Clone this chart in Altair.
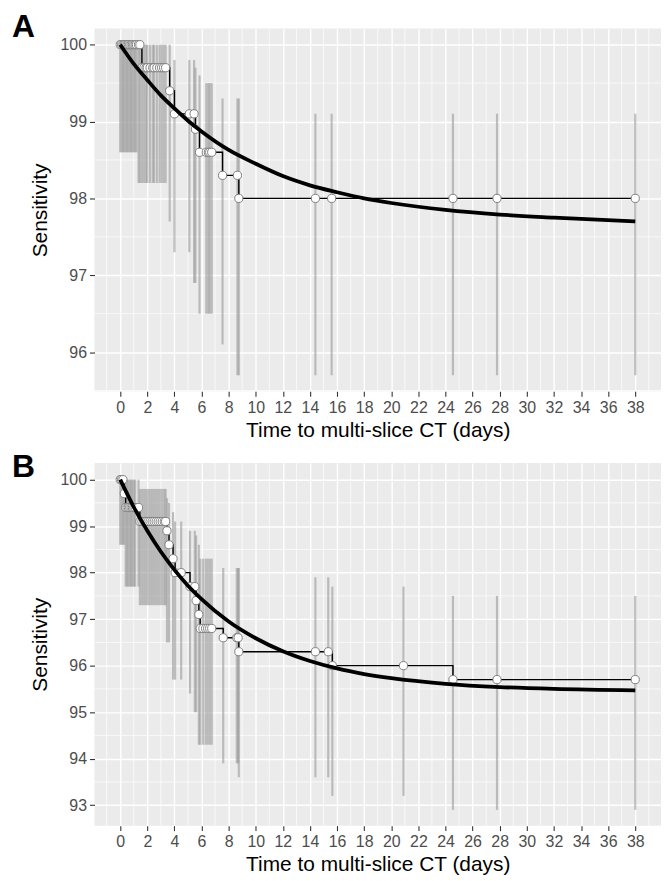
import altair as alt
import pandas as pd

FONT = "Liberation Sans"

# ---------------- axis tick values ----------------
X_MAJOR = [0, 2, 4, 6, 8, 10, 12, 14, 16, 18, 20, 22, 24, 26, 28, 30, 32, 34, 36, 38]
X_MINOR = [-1, 1, 3, 5, 7, 9, 11, 13, 15, 17, 19, 21, 23, 25, 27, 29, 31, 33, 35, 37, 39]
A_Y_MAJOR = [96, 97, 98, 99, 100]
A_Y_MINOR = [95.5, 96.5, 97.5, 98.5, 99.5]
B_Y_MAJOR = [93, 94, 95, 96, 97, 98, 99, 100]
B_Y_MINOR = [93.5, 94.5, 95.5, 96.5, 97.5, 98.5, 99.5]
X_DOMAIN = [-1.9, 39.9]
A_Y_DOMAIN = [95.49, 100.21]
B_Y_DOMAIN = [92.56, 100.36]

# ---------------- panel A data ----------------
A_time = [0.0, 0.1, 0.2, 0.3, 0.4, 0.5, 0.6, 0.7, 0.8, 0.9, 1.0, 1.1, 1.2, 1.35, 1.45,
          1.6, 1.75, 1.9, 2.0, 2.2, 2.4, 2.5, 2.7, 2.9, 3.05, 3.2, 3.35,
          3.65, 4.0, 5.1, 5.45, 5.55, 5.85, 6.35, 6.5, 6.6, 6.75,
          7.55, 8.65, 8.75, 14.4, 15.6, 24.55, 27.8, 38.0]
A_sens = [100, 100, 100, 100, 100, 100, 100, 100, 100, 100, 100, 100, 100, 100, 100,
          99.7, 99.7, 99.7, 99.7, 99.7, 99.7, 99.7, 99.7, 99.7, 99.7, 99.7, 99.7,
          99.4, 99.1, 99.1, 99.1, 98.9, 98.6, 98.6, 98.6, 98.6, 98.6,
          98.3, 98.3, 98.0, 98.0, 98.0, 98.0, 98.0, 98.0]
A_lo = [98.6, 98.6, 98.6, 98.6, 98.6, 98.6, 98.6, 98.6, 98.6, 98.6, 98.6, 98.6, 98.6, 98.2, 98.2,
        98.2, 98.2, 98.2, 98.2, 98.2, 98.2, 98.2, 98.2, 98.2, 98.2, 98.2, 98.2,
        97.7, 97.3, 97.3, 96.9, 96.9, 96.5, 96.5, 96.5, 96.5, 96.5,
        96.1, 95.7, 95.7, 95.7, 95.7, 95.7, 95.7, 95.7]
A_hi = [100, 100, 100, 100, 100, 100, 100, 100, 100, 100, 100, 100, 100, 100, 100,
        100, 100, 100, 100, 100, 100, 100, 100, 100, 100, 100, 100,
        100, 99.8, 99.8, 99.8, 99.7, 99.6, 99.5, 99.5, 99.5, 99.5,
        99.3, 99.3, 99.3, 99.1, 99.1, 99.1, 99.1, 99.1]
A_curve_x = [0, 1, 2, 3, 4, 5, 6, 8, 10, 12, 14, 16, 18, 20, 24, 28, 32, 38]
A_curve_y = [100, 99.75, 99.54, 99.34, 99.17, 99.01, 98.87, 98.63, 98.45, 98.29,
             98.17, 98.08, 98.00, 97.94, 97.85, 97.79, 97.75, 97.70]

# ---------------- panel B data ----------------
B_time = [0.0, 0.1, 0.2, 0.3,
          0.4, 0.5, 0.6, 0.7, 0.8, 0.9, 1.0, 1.1, 1.35,
          1.45, 1.6, 1.75, 1.9, 2.05, 2.2, 2.35, 2.5, 2.65, 2.8, 2.95, 3.1, 3.25, 3.35,
          3.45, 3.6, 3.9, 4.05, 4.5, 5.15, 5.5, 5.6, 5.8,
          5.9, 6.1, 6.3, 6.45, 6.6, 6.75,
          7.6, 8.6, 8.7, 8.75, 14.4, 15.35, 15.65, 20.9, 24.55, 27.8, 38.0]
B_sens = [100, 100, 100, 99.7,
          99.4, 99.4, 99.4, 99.4, 99.4, 99.4, 99.4, 99.4, 99.4,
          99.1, 99.1, 99.1, 99.1, 99.1, 99.1, 99.1, 99.1, 99.1, 99.1, 99.1, 99.1, 99.1, 99.1,
          98.9, 98.6, 98.3, 98.0, 98.0, 97.7, 97.7, 97.4, 97.1,
          96.8, 96.8, 96.8, 96.8, 96.8, 96.8,
          96.6, 96.6, 96.6, 96.3, 96.3, 96.3, 96.0, 96.0, 95.7, 95.7, 95.7]
B_lo = [98.6, 98.6, 98.6, 98.6,
        97.7, 97.7, 97.7, 97.7, 97.7, 97.7, 97.7, 97.7, 97.7,
        97.3, 97.3, 97.3, 97.3, 97.3, 97.3, 97.3, 97.3, 97.3, 97.3, 97.3, 97.3, 97.3, 97.3,
        96.5, 96.5, 95.7, 95.7, 95.7, 95.4, 95.0, 95.0, 94.3,
        94.3, 94.3, 94.3, 94.3, 94.3, 94.3,
        93.9, 93.9, 93.9, 93.6, 93.6, 93.6, 93.2, 93.2, 92.9, 92.9, 92.9]
B_hi = [100, 100, 100, 100,
        100, 100, 100, 100, 100, 100, 100, 100, 100,
        99.8, 99.8, 99.8, 99.8, 99.8, 99.8, 99.8, 99.8, 99.8, 99.8, 99.8, 99.8, 99.8, 99.8,
        99.6, 99.5, 99.3, 99.1, 99.1, 98.9, 98.9, 98.8, 98.6,
        98.3, 98.3, 98.3, 98.3, 98.3, 98.3,
        98.1, 98.1, 98.1, 98.1, 97.9, 97.9, 97.7, 97.7, 97.5, 97.5, 97.5]
B_curve_x = [0, 1, 2, 3, 4, 5, 6, 8, 10, 12, 14, 16, 18, 20, 24, 28, 32, 38]
B_curve_y = [100, 99.41, 98.90, 98.45, 98.06, 97.72, 97.43, 96.95, 96.59, 96.31,
             96.10, 95.94, 95.82, 95.73, 95.61, 95.54, 95.50, 95.47]

X_TITLE = "Time to multi-slice CT (days)"
Y_TITLE = "Sensitivity"


def x_axis():
    return alt.Axis(values=X_MAJOR, format="d", labelOverlap=False, labelFlush=False,
                    title=X_TITLE)


def y_axis(major):
    return alt.Axis(values=major, format="d", labelOverlap=False, labelFlush=False,
                    title=Y_TITLE)


def panel(label, label_y, t, s, lo, hi, cx, cy, ydom, ymaj, ymin):
    pts = pd.DataFrame({"t": t, "s": s, "lo": lo, "hi": hi})
    cur = pd.DataFrame({"t": cx, "s": cy})
    xs = alt.Scale(domain=X_DOMAIN, nice=False, zero=False)
    ys = alt.Scale(domain=ydom, nice=False, zero=False)
    X = alt.X("t:Q", scale=xs, axis=x_axis())
    Y = alt.Y("s:Q", scale=ys, axis=y_axis(ymaj))

    vminor = alt.Chart(pd.DataFrame({"t": X_MINOR})).mark_rule(
        color="white", strokeWidth=0.7).encode(x=X)
    hminor = alt.Chart(pd.DataFrame({"s": ymin})).mark_rule(
        color="white", strokeWidth=0.7).encode(y=Y)
    bars = alt.Chart(pts).mark_rule(color="#9a9a9a", opacity=0.6, strokeWidth=2.2).encode(
        x=X, y=alt.Y("lo:Q", scale=ys, axis=y_axis(ymaj)), y2="hi:Q")
    step = alt.Chart(pts).mark_line(interpolate="step-after", color="black", strokeWidth=1.4).encode(
        x=X, y=Y)
    dots = alt.Chart(pts).mark_point(shape="circle", filled=True, fill="white", stroke="#808080",
                                     strokeWidth=1, size=68, opacity=1).encode(x=X, y=Y)
    curve = alt.Chart(cur).mark_line(color="black", strokeWidth=3.8, interpolate="monotone").encode(
        x=X, y=Y)
    lab = alt.Chart(pd.DataFrame({"lab": [label]})).mark_text(
        font=FONT, fontSize=32, fontWeight="bold", align="left", baseline="top", color="black"
    ).encode(text="lab:N", x=alt.value(-83), y=alt.value(label_y))
    return alt.layer(vminor, hminor, bars, step, dots, curve, lab).properties(width=570, height=365)


pA = panel("A", -16, A_time, A_sens, A_lo, A_hi, A_curve_x, A_curve_y, A_Y_DOMAIN, A_Y_MAJOR, A_Y_MINOR)
pB = panel("B", -11, B_time, B_sens, B_lo, B_hi, B_curve_x, B_curve_y, B_Y_DOMAIN, B_Y_MAJOR, B_Y_MINOR)

chart = alt.vconcat(pA, pB, spacing=11).resolve_scale(y="independent").properties(
    padding={"left": 4, "top": 1, "right": 0, "bottom": 0},
    background="white",
).configure_view(
    fill="#EBEBEB", stroke=None
).configure_axis(
    gridColor="white",
    gridWidth=1.4,
    domain=False,
    tickColor="#333333",
    tickSize=5,
    tickWidth=1.1,
    labelColor="#4D4D4D",
    labelFont=FONT,
    labelFontSize=16,
    labelPadding=3,
    titleFont=FONT,
    titleFontSize=21,
    titleFontWeight="normal",
    titleColor="black",
).configure_axisX(titlePadding=4).configure_axisY(titlePadding=10)

chart.save("out.html", embed_options={"renderer": "svg", "actions": False})
